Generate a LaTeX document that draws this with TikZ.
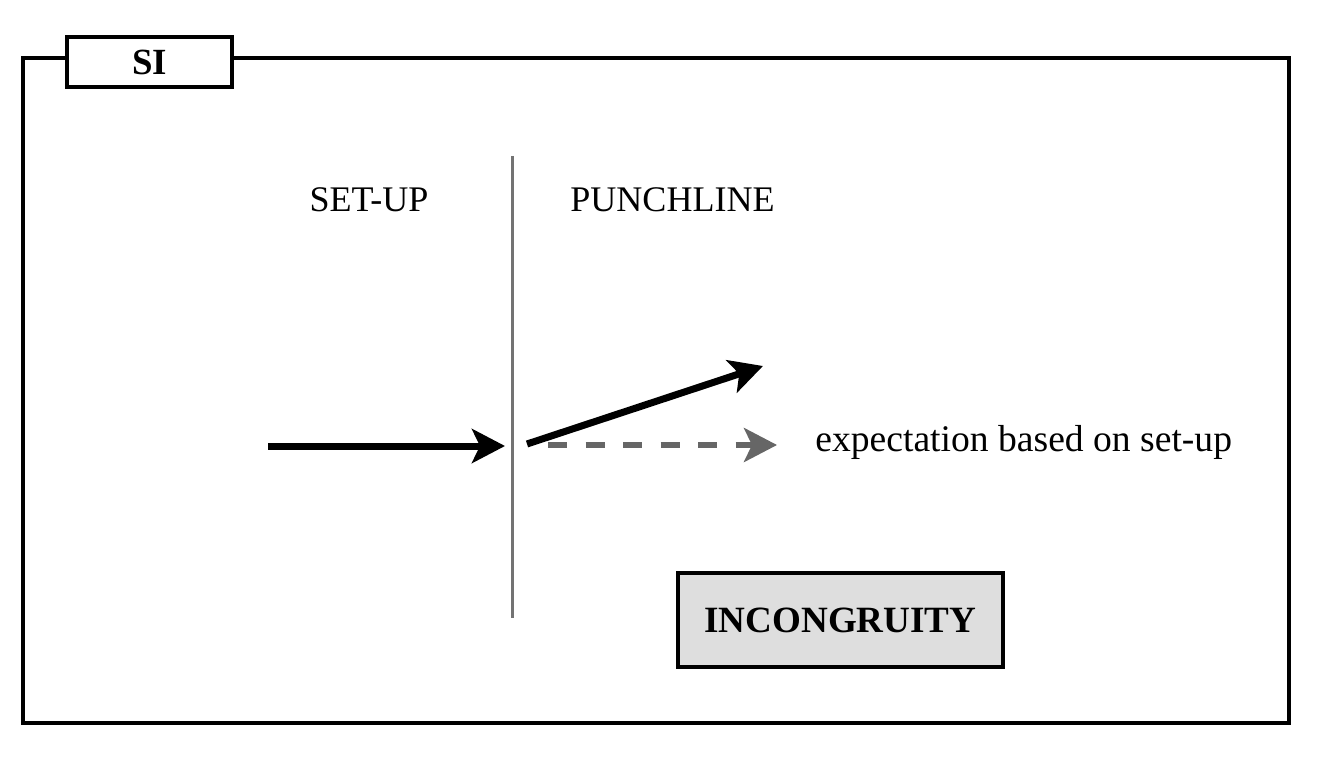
\documentclass[tikz,border=0pt]{standalone}
\usepackage{fontspec}
\setmainfont{Liberation Serif}
\usepackage{tikz}
\usetikzlibrary{arrows.meta}

\begin{document}
\begin{tikzpicture}[x=0.2mm, y=-0.2mm,
    every node/.style={font=\fontsize{20.5pt}{24pt}\selectfont, inner sep=0pt},
    frame/.style={draw=black, line width=0.8mm},
    jump/.style={-{Stealth[length=6.6mm, width=6.8mm, inset=1.6mm]}, line width=1.4mm},
    expected/.style={jump, draw=black!60, line width=1.1mm, dash pattern=on 3.8mm off 3.7mm},
    label/.style={text=black}]
  \useasboundingbox (0,0) rectangle (1317,759);
  % outer frame and its tab
  \draw[frame] (23,58) rectangle (1289,723);
  \node[frame, fill=white, minimum width=33mm, minimum height=10mm, font=\fontsize{21pt}{24pt}\selectfont\bfseries] (si) at (149.5,62) {SI};
  % set-up / punchline border
  \draw[black!55, line width=0.6mm] (512,156) -- (512,618);
  \node[label] (setup) at (369,200) {SET-UP};
  \node[label] (punch) at (672.5,200) {PUNCHLINE};
  % the flow of the joke
  \coordinate (flowin) at (268,446);
  \coordinate (cut) at (505,446);
  \coordinate (flowout) at (527,444);
  \coordinate (twist) at (763,366);
  \coordinate (dashstart) at (548,445);
  \coordinate (dashend) at (777,445);
  \node[label, anchor=base west, font=\fontsize{21.4pt}{24pt}\selectfont] (expect) at (815,451) {expectation based on set-up};
  \draw[jump] (flowin) -- (cut);
  \draw[jump] (flowout) -- (twist);
  \draw[expected] (dashstart) -- (dashend);
  \node[frame, fill=black!13, minimum width=65mm, minimum height=18.8mm, font=\fontsize{21.1pt}{24pt}\selectfont\bfseries] (incong) at (840.5,620) {INCONGRUITY};
\end{tikzpicture}
\end{document}
